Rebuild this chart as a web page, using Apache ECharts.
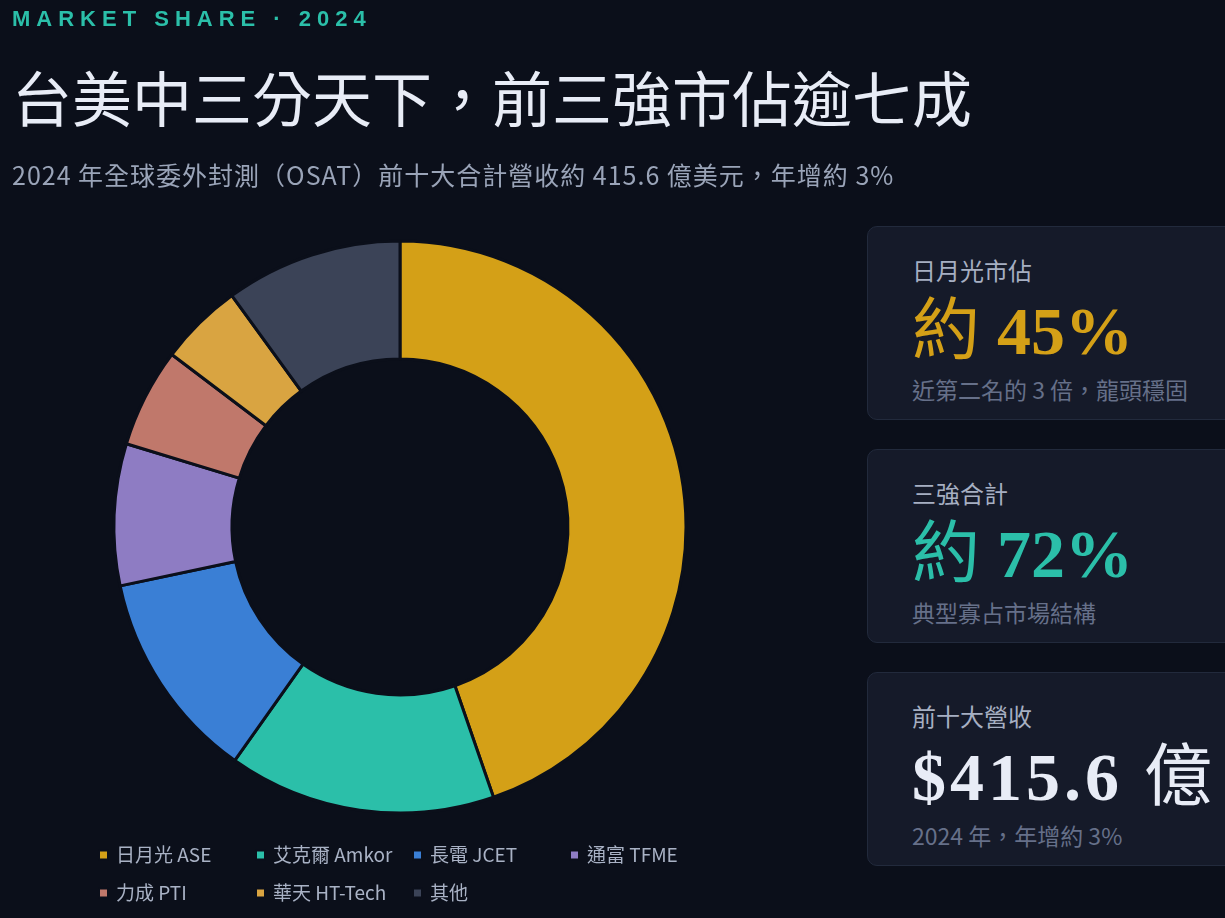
<!DOCTYPE html>
<html lang="zh-Hant">
<head>
<meta charset="utf-8">
<title>OSAT 市佔 2024</title>
<script src="https://cdn.jsdelivr.net/npm/echarts@6/dist/echarts.min.js"></script>
<style>
  html, body {
    margin: 0;
    width: 1225px;
    height: 918px;
    overflow: hidden;
    background: #0b0f1a;
    font-family: "Noto Sans CJK TC", "Noto Sans", sans-serif;
  }
  #share {
    position: absolute;
    left: 0; top: 0;
    width: 1225px; height: 918px;
  }
  .eyebrow {
    position: absolute; left: 12px; top: 6px;
    font-family: "Liberation Sans", Arial, sans-serif;
    font-weight: bold; font-size: 22px; letter-spacing: 6px;
    color: #2bbfa9;
  }
  h1 {
    position: absolute; left: 12px; top: 56px; margin: 0;
    font-weight: 400; font-size: 60px; line-height: 80px;
    color: #e8ecf6;
  }
  .sub {
    position: absolute; left: 12px; top: 157px;
    font-size: 25px; line-height: 34px; color: #9aa4b8;
    letter-spacing: 1px;
  }
  .card {
    position: absolute; left: 867px; width: 400px; height: 194px;
    box-sizing: border-box;
    background: #151a29; border: 1px solid #222a3c; border-radius: 10px;
  }
  .card .label {
    position: absolute; left: 44px; top: 26px;
    font-size: 24px; line-height: 34px; color: #a6afc2;
  }
  .card .value {
    position: absolute; left: 44px; top: 52px; white-space: nowrap;
    font-family: "Liberation Serif", "DejaVu Serif", "Noto Sans CJK TC", serif;
    font-weight: bold; font-size: 68px; line-height: 92px;
  }
  .card .value .cjk { font-family: "Noto Sans CJK TC", serif; font-weight: 400; }
  .card .value.wide { letter-spacing: 4px; }
  .card .note {
    position: absolute; left: 44px; top: 146px;
    font-size: 23px; line-height: 32px; color: #667089;
  }
</style>
</head>
<body>
<div id="share"></div>

<div class="eyebrow">MARKET SHARE · 2024</div>
<h1>台美中三分天下，前三強市佔逾七成</h1>
<div class="sub">2024 年全球委外封測（OSAT）前十大合計營收約 415.6 億美元，年增約 3%</div>

<div class="card" style="top:226px">
  <div class="label">日月光市佔</div>
  <div class="value" style="color:#d4a017"><span class="cjk">約</span> 45%</div>
  <div class="note">近第二名的 3 倍，龍頭穩固</div>
</div>
<div class="card" style="top:449px">
  <div class="label">三強合計</div>
  <div class="value" style="color:#2bbfa9"><span class="cjk">約</span> 72%</div>
  <div class="note">典型寡占市場結構</div>
</div>
<div class="card" style="top:672px">
  <div class="label">前十大營收</div>
  <div class="value wide" style="color:#e8ecf6">$415.6 <span class="cjk">億</span></div>
  <div class="note">2024 年，年增約 3%</div>
</div>

<script>
// 廠商與市佔（%）
const companies = ['日月光 ASE', '艾克爾 Amkor', '長電 JCET', '通富 TFME', '力成 PTI', '華天 HT-Tech', '其他']
const shares = [44.7, 15.1, 11.9, 8.0, 5.6, 4.7, 10.0]
const colors = ['#d4a017', '#2bbfa9', '#3a7fd5', '#8e7cc3', '#c0786b', '#d9a441', '#3b4357']

const myChart = echarts.init(document.getElementById('share'))

const option = {
  backgroundColor: 'transparent',
  color: colors,
  legend: {
    left: 98,
    top: 842,
    width: 640,
    padding: 0,
    icon: 'rect',
    itemWidth: 9,
    itemHeight: 9,
    itemGap: 12,
    textStyle: {
      color: '#a9b2c5',
      fontSize: 19,
      lineHeight: 26,
      width: 127,
      padding: [0, 0, 0, 3],
      fontFamily: 'Noto Sans CJK TC'
    },
    data: companies
  },
  series: [
    {
      type: 'pie',
      center: [400, 527],
      radius: [168, 286],
      startAngle: 90,
      label: { show: false },
      labelLine: { show: false },
      emphasis: { scale: false },
      itemStyle: {
        borderColor: '#0b0f1a',
        borderWidth: 3
      },
      data: companies.map((name, i) => ({ name: name, value: shares[i] }))
    }
  ]
}

myChart.setOption(option)
</script>
</body>
</html>
